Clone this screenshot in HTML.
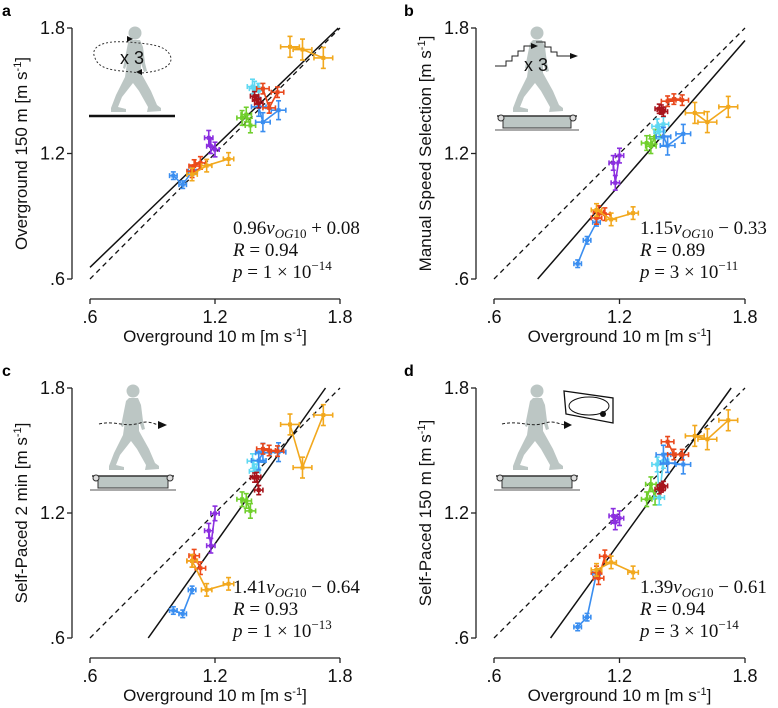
<!DOCTYPE html>
<html><head><meta charset="utf-8">
<style>
html,body{margin:0;padding:0;background:#fff;}
svg{display:block;font-family:"Liberation Sans",sans-serif;}
.tick{font-size:18px;fill:#111;}
.title{font-size:17px;fill:#111;}
.ann{font-family:"Liberation Serif",serif;font-size:19px;fill:#111;}
.letter{font-size:16px;font-weight:bold;fill:#000;}
</style></head>
<body>
<svg id="chart" width="778" height="708" viewBox="0 0 778 708"></svg>
<script>
// ---- data ----
const subjects = ["blue1","red1","yellow1","purple","green","cyan","blue2","darkred","red2","yellow2"];
const colors = ["#3a8ef0","#ee4a1a","#f2a81d","#8b2fe0","#70cf2c","#5fd8f2","#3a8ef0","#a8141c","#e8481c","#f2a81d"];
const og10 = [
 [1.00,1.045,1.09],[1.09,1.10,1.13],[1.09,1.16,1.265],[1.17,1.18,1.20],[1.33,1.35,1.37],
 [1.38,1.39,1.41],[1.41,1.43,1.505],[1.39,1.40,1.41],[1.43,1.46,1.50],[1.56,1.62,1.72]];
const yA = [[1.094,1.051,1.115],[1.115,1.14,1.155],[1.10,1.142,1.174],[1.275,1.235,1.219],[1.37,1.386,1.334],
 [1.52,1.51,1.50],[1.423,1.35,1.407],[1.474,1.458,1.44],[1.51,1.418,1.493],[1.71,1.697,1.657]];
const yB = [[0.673,0.785,0.871],[0.892,0.92,0.91],[0.93,0.885,0.915],[1.155,1.06,1.19],[1.25,1.235,1.28],
 [1.33,1.305,1.34],[1.28,1.238,1.294],[1.414,1.41,1.40],[1.45,1.46,1.455],[1.394,1.35,1.423]];
const yC = [[0.732,0.716,0.831],[0.97,0.995,0.935],[0.97,0.831,0.86],[1.115,1.043,1.198],[1.266,1.258,1.21],
 [1.449,1.40,1.45],[1.452,1.489,1.492],[1.37,1.373,1.31],[1.508,1.50,1.497],[1.625,1.418,1.67]];
const yD = [[0.653,0.70,0.91],[0.915,0.887,0.992],[0.927,0.963,0.915],[1.186,1.155,1.175],[1.266,1.338,1.274],
 [1.433,1.274,1.45],[1.48,1.44,1.433],[1.314,1.322,1.33],[1.542,1.481,1.48],[1.57,1.554,1.645]];
const errX = [0.018,0.025,0.025,0.02,0.025,0.025,0.035,0.02,0.03,0.045];
const errY = [0.018,0.03,0.03,0.035,0.035,0.035,0.045,0.022,0.025,0.05];
const tickVals = [0.6,1.2,1.8];
const tickLabels = [".6","1.2","1.8"];
const slopes = [0.96,1.15,1.41,1.39];
const intercepts = [0.08,-0.33,-0.64,-0.61];
const eqText = ["0.96","1.15","1.41","1.39"];
const eqConst = ["+ 0.08","− 0.33","− 0.64","− 0.61"];
const rText = ["0.94","0.89","0.93","0.94"];
const pMant = ["1","3","1","3"];
const pExp = ["−14","−11","−13","−14"];
const yTitles = ["Overground 150 m [m s","Manual Speed Selection [m s","Self-Paced 2 min [m s","Self-Paced 150 m [m s"];
const letters = ["a","b","c","d"];
const ySets = [yA,yB,yC,yD];

const NS="http://www.w3.org/2000/svg";
const svg=document.getElementById("chart");
function mk(tag,attrs,parent){const e=document.createElementNS(NS,tag);for(const k in attrs)e.setAttribute(k,attrs[k]);(parent||svg).appendChild(e);return e;}

const panels=[
 {x0:90,x1:340,yT:28,yB:279,ax:72,ay:299,lx:2,ly:16},
 {x0:494,x1:745,yT:28,yB:279,ax:476,ay:299,lx:404,ly:16},
 {x0:90,x1:340,yT:388,yB:638,ax:72,ay:658,lx:2,ly:376},
 {x0:494,x1:745,yT:388,yB:638,ax:476,ay:658,lx:404,ly:376}];

const personPts=[[-4,7],[5,7],[8,14],[10,30],[12,38],[9,39],[6,30],[6,40],[16,58],[22,72],[26,75],[26,78],[12,79],[13,74],[4,58],[-2,50],[-13,64],[-17,74],[-9,76],[-9,79],[-24,79],[-24,75],[-19,62],[-10,44],[-8,30],[-10,36],[-12,35],[-9,20],[-7,10]];
function person(g,hx,hy){
  const c=mk("circle",{cx:hx,cy:hy,r:6.5,fill:"#bcc6c4"},g);
  
  
  const p=mk("polygon",{points:personPts.map(q=>(hx+q[0])+","+(hy+q[1])).join(" "),fill:"#bcc6c4"},g);
  
  
}
function treadmill(g,x,y,w){
  mk("rect",{x:x+6,y:y,width:w-12,height:12,fill:"#bcc6c4",stroke:"#333","stroke-width":1},g);
  mk("line",{x1:x,y1:y,x2:x+w,y2:y,stroke:"#333","stroke-width":1.5},g);
  mk("circle",{cx:x+4,cy:y+2,r:3,fill:"#ddd",stroke:"#333"},g);
  mk("circle",{cx:x+w-4,cy:y+2,r:3,fill:"#ddd",stroke:"#333"},g);
  mk("line",{x1:x-2,y1:y+14,x2:x+w+2,y2:y+14,stroke:"#555","stroke-width":1},g);
}

panels.forEach((P,pi)=>{
  const g=mk("g",{});
  
  
  const sx=v=>P.x0+(v-0.6)/1.2*(P.x1-P.x0);
  const sy=v=>P.yB-(v-0.6)/1.2*(P.yB-P.yT);
  const L=mk("text",{x:P.lx,y:P.ly,class:"letter"},g);L.textContent=letters[pi];
  
  
  const ya=mk("line",{x1:P.ax,y1:P.yT,x2:P.ax,y2:P.yB,stroke:"#222","stroke-width":1.3},g);
  
  
  const xa=mk("line",{x1:P.x0,y1:P.ay,x2:P.x1,y2:P.ay,stroke:"#222","stroke-width":1.3},g);
  
  
  tickVals.forEach((v,i)=>{
    mk("line",{x1:P.ax-5,y1:sy(v),x2:P.ax,y2:sy(v),stroke:"#222","stroke-width":1.3},g);
    const t=mk("text",{x:P.ax-7,y:sy(v)+6,class:"tick","text-anchor":"end"},g);t.textContent=tickLabels[i];
    
    
    mk("line",{x1:sx(v),y1:P.ay,x2:sx(v),y2:P.ay+5,stroke:"#222","stroke-width":1.3},g);
    const u=mk("text",{x:sx(v),y:P.ay+24,class:"tick","text-anchor":"middle"},g);u.textContent=tickLabels[i];
    
    
  });
  const xt=mk("text",{x:(P.x0+P.x1)/2,y:P.ay+43,class:"title","text-anchor":"middle"},g);
  xt.innerHTML='Overground 10 m [m s<tspan dy="-6" font-size="11">-1</tspan><tspan dy="6">]</tspan>';
  
  
  const yt=mk("text",{x:0,y:0,class:"title","text-anchor":"middle",transform:`translate(${P.ax-45},${(P.yT+P.yB)/2}) rotate(-90)`},g);
  yt.innerHTML=yTitles[pi]+'<tspan dy="-6" font-size="11">-1</tspan><tspan dy="6">]</tspan>';
  
  
  const id=mk("line",{x1:sx(0.6),y1:sy(0.6),x2:sx(1.8),y2:sy(1.8),stroke:"#111","stroke-width":1.3,"stroke-dasharray":"5,4"},g);
  
  
  const m=slopes[pi],b=intercepts[pi];
  let xs=Math.max(0.6,(0.6-b)/m), xe=Math.min(1.8,(1.8-b)/m);
  const rl=mk("line",{x1:sx(xs),y1:sy(m*xs+b),x2:sx(xe),y2:sy(m*xe+b),stroke:"#111","stroke-width":1.5},g);
  
  
  const Y=ySets[pi];
  subjects.forEach((s,si)=>{
    const sg=mk("g",{stroke:colors[si],"stroke-width":1.6,fill:colors[si]},g);
    
    
    const pts=og10[si].map((x,k)=>[sx(x),sy(Y[si][k])]);
    mk("polyline",{points:pts.map(p=>p.join(",")).join(" "),fill:"none"},sg);
    og10[si].forEach((x,k)=>{
      const cx=sx(x),cy=sy(Y[si][k]);
      const ex=(P.x1-P.x0)/1.2*errX[si], ey=(P.yB-P.yT)/1.2*errY[si];
      mk("line",{x1:cx-ex,y1:cy,x2:cx+ex,y2:cy},sg);
      mk("line",{x1:cx,y1:cy-ey,x2:cx,y2:cy+ey},sg);
      mk("line",{x1:cx-ex,y1:cy-2.5,x2:cx-ex,y2:cy+2.5},sg);
      mk("line",{x1:cx+ex,y1:cy-2.5,x2:cx+ex,y2:cy+2.5},sg);
      mk("line",{x1:cx-2.5,y1:cy-ey,x2:cx+2.5,y2:cy-ey},sg);
      mk("line",{x1:cx-2.5,y1:cy+ey,x2:cx+2.5,y2:cy+ey},sg);
      const dot=mk("rect",{x:cx-2,y:cy-2,width:4,height:4,stroke:"none"},sg);
      
      
    });
  });
  const ax=P.ax+(pi%2==0?161:164), ay0=P.yB-45;
  const a1=mk("text",{x:ax,y:ay0,class:"ann"},g);
  a1.innerHTML=eqText[pi]+'<tspan font-style="italic">v</tspan><tspan font-style="italic" font-size="13" dy="4">OG</tspan><tspan font-size="13">10</tspan><tspan dy="-4"> '+eqConst[pi]+'</tspan>';
  
  
  const a2=mk("text",{x:ax,y:ay0+22,class:"ann"},g);
  a2.innerHTML='<tspan font-style="italic">R</tspan> = '+rText[pi];
  
  
  const a3=mk("text",{x:ax,y:ay0+44,class:"ann"},g);
  a3.innerHTML='<tspan font-style="italic">p</tspan> = '+pMant[pi]+' × 10<tspan font-size="13" dy="-8">'+pExp[pi]+'</tspan>';
  
  
  const ig=mk("g",{},g);
  
  
  if(pi==0){
    person(ig,135,33);
    mk("line",{x1:89,y1:116,x2:175,y2:116,stroke:"#111","stroke-width":2.5},ig);
    mk("path",{d:"M128,42 C100,40 90,48 95,58 C100,72 120,70 140,73 C160,72 175,66 170,55 C165,45 150,44 128,42",fill:"none",stroke:"#333","stroke-width":1,"stroke-dasharray":"2,2"},ig);
    mk("polygon",{points:"133,39 127,36 127,42",fill:"#111"},ig);
    mk("polygon",{points:"136,72 142,69 142,75",fill:"#111"},ig);
    const t=mk("text",{x:120,y:64,"font-size":18,fill:"#111"},ig);t.textContent="x 3";
  } else if(pi==1){
    person(ig,537,33);
    treadmill(ig,497,116,80);
    mk("polyline",{points:"495,66 506,66 506,61 512,61 512,56 518,56 518,51 524,51 524,46 534,46",fill:"none",stroke:"#222","stroke-width":1},ig);
    mk("polygon",{points:"538,46 531,43 531,49",fill:"#111"},ig);
    mk("polyline",{points:"536,42 545,42 545,47 551,47 551,52 557,52 557,56 570,56",fill:"none",stroke:"#222","stroke-width":1},ig);
    mk("polygon",{points:"578,56 570,53 570,59",fill:"#111"},ig);
    const t=mk("text",{x:524,y:71,"font-size":18,fill:"#111"},ig);t.textContent="x 3";
  } else if(pi==2){
    person(ig,133,391);
    treadmill(ig,92,476,82);
    mk("path",{d:"M99,424 C115,420 125,428 140,423 C150,420 155,425 160,425",fill:"none",stroke:"#222","stroke-width":1,"stroke-dasharray":"3,2"},ig);
    mk("polygon",{points:"167,425 158,421 158,429",fill:"#111"},ig);
  } else {
    person(ig,537,391);
    treadmill(ig,496,476,82);
    mk("path",{d:"M502,424 C520,420 530,428 545,423 C555,420 560,425 566,425",fill:"none",stroke:"#222","stroke-width":1,"stroke-dasharray":"3,2"},ig);
    mk("polygon",{points:"572,425 564,421 564,429",fill:"#111"},ig);
    mk("polygon",{points:"564,391 613,398 613,423 566,414",fill:"#fff",stroke:"#111","stroke-width":1.3},ig);
    mk("ellipse",{cx:589,cy:406,rx:20,ry:9,fill:"none",stroke:"#111","stroke-width":1},ig);
    mk("circle",{cx:603,cy:414,r:3,fill:"#111"},ig);
  }
});
</script>
</body></html>
